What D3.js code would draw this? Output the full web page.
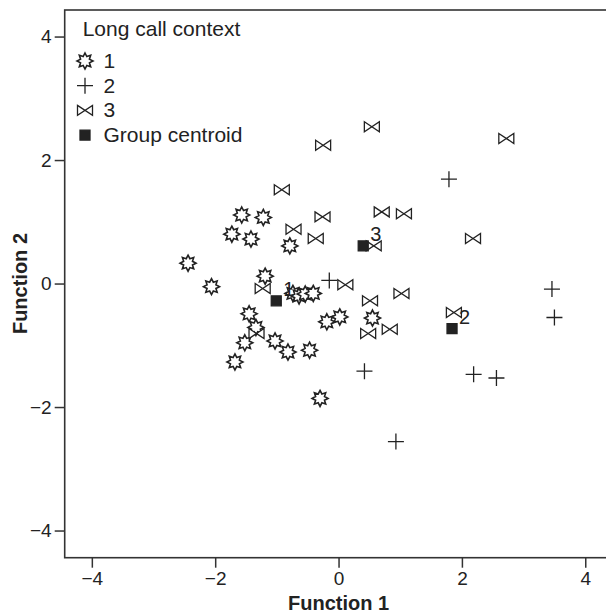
<!DOCTYPE html>
<html>
<head>
<meta charset="utf-8">
<script src="https://cdn.jsdelivr.net/npm/d3@7"></script>
<style>
  body { margin: 0; background: #fff; }
  text { font-family: "Liberation Sans", Arial, sans-serif; fill: #222; }
</style>
</head>
<body>
<svg width="606" height="614"></svg>
<script>
// group 1 (stars)
const group1 = [
    [-1.57, 1.11], [-1.22, 1.07], [-1.73, 0.80], [-1.42, 0.72], [-0.79, 0.61],
    [-2.44, 0.33], [-2.06, -0.05], [-1.19, 0.12], [-0.74, -0.16], [-0.64, -0.20],
    [-0.54, -0.17], [-0.41, -0.16], [-1.45, -0.49], [-1.34, -0.71], [-1.52, -0.96],
    [-1.03, -0.93], [-0.82, -1.11], [-0.47, -1.08], [-1.68, -1.27], [-0.19, -0.62],
    [0.02, -0.54], [0.55, -0.56], [-0.30, -1.86]
];
// group 2 (plus)
const group2 = [
    [1.79, 1.69], [-0.15, 0.05], [3.46, -0.09], [3.50, -0.55],
    [0.42, -1.42], [2.19, -1.47], [2.56, -1.53], [0.93, -2.56]
];
// group 3 (bowtie)
const group3 = [
    [0.54, 2.54], [-0.25, 2.24], [2.72, 2.35], [-0.92, 1.52], [-0.26, 1.08],
    [0.70, 1.16], [1.06, 1.13], [-0.73, 0.88], [-0.37, 0.73], [2.18, 0.73],
    [0.57, 0.61], [-1.23, -0.08], [0.11, -0.02], [1.02, -0.16], [0.51, -0.28],
    [1.87, -0.47], [0.48, -0.81], [0.83, -0.74], [-1.33, -0.81]
];
const centroids = [
    {label: "1", x: -1.01, y: -0.28},
    {label: "2", x: 1.84, y: -0.73},
    {label: "3", x: 0.40, y: 0.61}
];
const xTicks = [-4, -2, 0, 2, 4];
const yTicks = [-4, -2, 0, 2, 4];
const legendTitle = "Long call context";
const legendItems = [
    {shape: "star", label: "1"},
    {shape: "plus", label: "2"},
    {shape: "bowtie", label: "3"},
    {shape: "square", label: "Group centroid"}
];

const svg = d3.select("svg");
const plotLeft = 64.7, plotTop = 10, plotBottom = 557.7;

const x = d3.scaleLinear().domain([-4.44, 4.32]).range([plotLeft, 605]);
const y = d3.scaleLinear().domain([-4.44, 4.43]).range([plotBottom, plotTop]);

// marker paths
function starPath() {
    const pts = [];
    for (let i = 0; i < 16; i++) {
        const r = i % 2 === 0 ? 8 : 4.8;
        const a = i * Math.PI / 8 - Math.PI / 2;
        pts.push([r * Math.cos(a), r * Math.sin(a)]);
    }
    return "M" + pts.map(p => p[0].toFixed(2) + "," + p[1].toFixed(2)).join("L") + "Z";
}
const shapes = {
    star: starPath(),
    plus: "M-8,0L8,0M0,-8L0,8",
    bowtie: "M-7.5,-5L7.5,5L7.5,-5L-7.5,5Z",
    square: "M-5,-5L5,-5L5,5L-5,5Z"
};
function styleMarker(sel, shape) {
    sel.attr("d", shapes[shape])
        .attr("stroke", "#222")
        .attr("stroke-width", shape === "star" ? 1.6 : 1.3)
        .attr("stroke-linejoin", "miter")
        .attr("fill", shape === "square" ? "#222" : (shape === "plus" ? "none" : "#fff"));
}

// axes
const xAxis = svg.append("g")
    .attr("transform", "translate(0," + plotBottom + ")")
    .call(d3.axisBottom(x).tickValues(xTicks).tickSize(10).tickPadding(4));
const yAxis = svg.append("g")
    .attr("transform", "translate(" + plotLeft + ",0)")
    .call(d3.axisLeft(y).tickValues(yTicks).tickSize(10).tickPadding(3));
[xAxis, yAxis].forEach(function (g) {
    g.select(".domain").remove();
    g.selectAll(".tick line").attr("stroke", "#333").attr("stroke-width", 1.5);
    g.selectAll(".tick text")
        .style("font-family", "'Liberation Sans', Arial, sans-serif")
        .style("font-size", "19px")
        .attr("fill", "#222");
});

// frame
svg.append("rect")
    .attr("x", plotLeft).attr("y", plotTop)
    .attr("width", 620 - plotLeft).attr("height", plotBottom - plotTop)
    .attr("fill", "none")
    .attr("stroke", "#333")
    .attr("stroke-width", 1.6);

// points
const layers = [
    {data: group1, shape: "star"},
    {data: group2, shape: "plus"},
    {data: group3, shape: "bowtie"}
];
layers.forEach(function (layer) {
    svg.append("g").selectAll("path")
        .data(layer.data)
        .enter().append("path")
        .attr("transform", function (d) { return "translate(" + x(d[0]) + "," + y(d[1]) + ")"; })
        .call(styleMarker, layer.shape);
});

// centroids
const cg = svg.append("g").selectAll("g")
    .data(centroids)
    .enter().append("g")
    .attr("transform", function (d) { return "translate(" + x(d.x) + "," + y(d.y) + ")"; });
cg.append("path").call(styleMarker, "square");
cg.append("text")
    .attr("x", 7).attr("y", -5)
    .style("font-size", "20px")
    .text(function (d) { return d.label; });

// legend
const legend = svg.append("g");
legend.append("text")
    .attr("x", 82.7).attr("y", 36)
    .style("font-size", "21px")
    .text(legendTitle);
const li = legend.selectAll("g.item")
    .data(legendItems)
    .enter().append("g")
    .attr("class", "item")
    .attr("transform", function (d, i) { return "translate(85," + (61 + i * 24.7) + ")"; });
li.append("path").each(function (d) { d3.select(this).call(styleMarker, d.shape); });
li.append("text")
    .attr("x", 18.5).attr("y", 7)
    .style("font-size", "21px")
    .text(function (d) { return d.label; });

// axis titles
svg.append("text")
    .attr("x", x(0)).attr("y", 610)
    .attr("text-anchor", "middle")
    .style("font-size", "20px")
    .style("font-weight", "bold")
    .text("Function 1");
svg.append("text")
    .attr("transform", "translate(27," + y(0) + ") rotate(-90)")
    .attr("text-anchor", "middle")
    .style("font-size", "20px")
    .style("font-weight", "bold")
    .text("Function 2");
</script>
</body>
</html>
